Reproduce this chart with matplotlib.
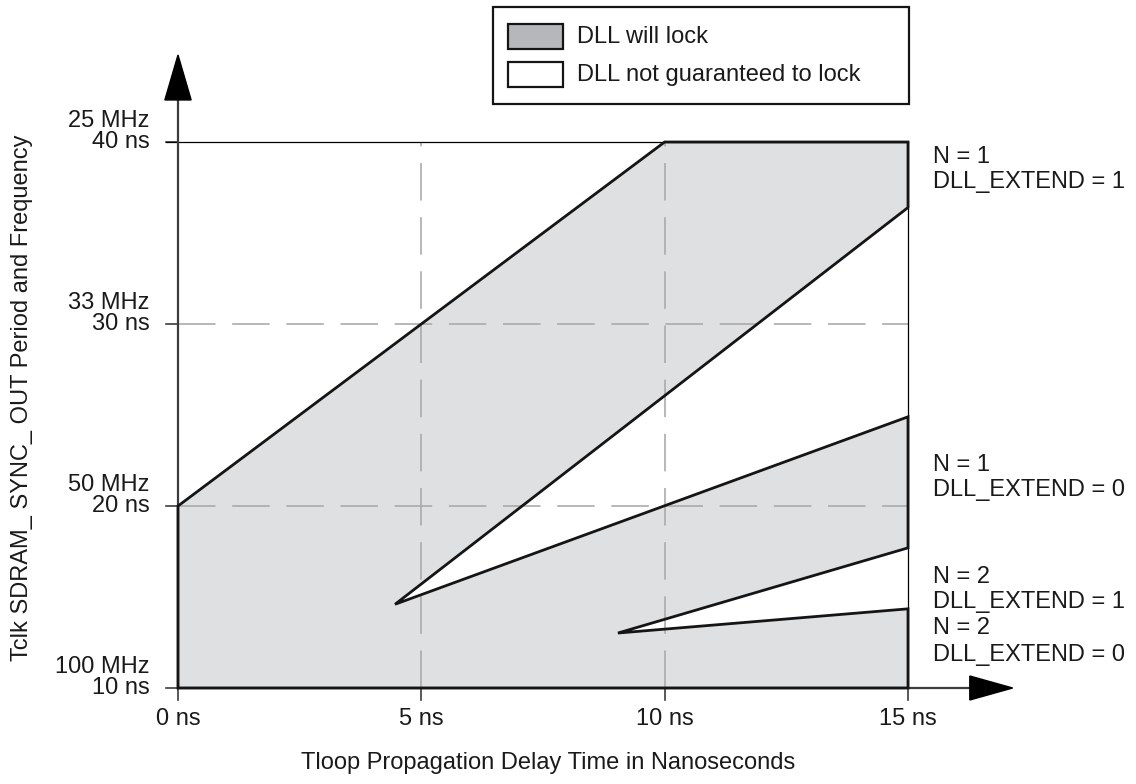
import matplotlib
matplotlib.use("Agg")
from matplotlib import pyplot as plt
from matplotlib.patches import Polygon, Rectangle

plt.rcParams['font.family'] = ['Liberation Sans', 'DejaVu Sans']
plt.rcParams['lines.scale_dashes'] = False

# lock region outline (Tloop ns, Tclk ns)
lockX = [0, 0, 10, 15, 15, 4.46, 15, 15, 9.04, 15, 15]
lockY = [10, 20, 40, 40, 36.4, 14.6, 24.9, 17.7, 13.02, 14.35, 10]

xTicks = [0, 5, 10, 15]
xLabels = ["0 ns", "5 ns", "10 ns", "15 ns"]
yTicks = [10, 20, 30, 40]
yNs = ["10 ns", "20 ns", "30 ns", "40 ns"]
yMHz = ["100 MHz", "50 MHz", "33 MHz", "25 MHz"]

caseY = [39.18, 37.8, 22.25, 20.88, 16.1, 14.73, 13.3, 11.81]
caseText = ["N = 1", "DLL_EXTEND = 1", "N = 1", "DLL_EXTEND = 0",
            "N = 2", "DLL_EXTEND = 1", "N = 2", "DLL_EXTEND = 0"]

W, H = 1136, 784
fs = 17
fig = plt.figure(figsize=(W/100, H/100), dpi=100)
ax = fig.add_axes([178/W, 96/H, 730/W, 546/H])
ax.set_xlim(0, 15)
ax.set_ylim(10, 40)
ax.axis("off")

lockColor = "#dfe0e2"
pts = list(zip(lockX, lockY))
ax.add_patch(Polygon(pts, closed=True, facecolor=lockColor, edgecolor="none", zorder=1))

# dashed grid
for xv in xTicks[1:3]:
    ax.plot([xv, xv], [10, 40], color="#ababab", lw=1.2, dashes=(27, 12), zorder=2)
for yv in yTicks[1:3]:
    ax.plot([0, 15], [yv, yv], color="#ababab", lw=1.2, dashes=(27, 12), zorder=2)

# thin frame lines
ax.plot([-0.25, 15], [40, 40], color="black", lw=0.9, zorder=3, clip_on=False)
ax.plot([15, 15], [10, 40], color="black", lw=0.9, zorder=3, clip_on=False)

# axes with arrows
axc = "#3c3c3c"
ax.plot([0, 0], [10, 42.4], color=axc, lw=1.6, zorder=3, clip_on=False)
ax.plot([0, 16.3], [10, 10], color=axc, lw=1.6, zorder=3, clip_on=False)
ax.fill([-0.27, 0.27, 0], [42.31, 42.31, 44.78], color="black", zorder=4, clip_on=False)
ax.fill([16.27, 16.27, 17.15], [9.34, 10.66, 10], color="black", zorder=4, clip_on=False)

# ticks
for xv in xTicks:
    ax.plot([xv, xv], [10, 9.35], color=axc, lw=1.2, clip_on=False)
for yv in yTicks:
    ax.plot([-0.25, 0], [yv, yv], color=axc, lw=1.2, clip_on=False)

# outline of lock region
ax.add_patch(Polygon(pts, closed=True, facecolor="none", edgecolor="#151515",
                     lw=2.0, joinstyle="miter", zorder=5, clip_on=False))

# tick labels
for xv, lab in zip(xTicks, xLabels):
    ax.text(xv, 8.3, lab, ha="center", va="center", fontsize=fs, color="#1a1a1a")
for yv, ns, mhz in zip(yTicks, yNs, yMHz):
    ax.text(-0.58, yv, ns, ha="right", va="center", fontsize=fs, color="#1a1a1a")
    ax.text(-0.58, yv + 1.15, mhz, ha="right", va="center", fontsize=fs, color="#1a1a1a")

for yv, t in zip(caseY, caseText):
    ax.text(15.51, yv, t, ha="left", va="center", fontsize=fs, color="#1a1a1a")

fig.text(548/W, 1 - 763/H, "Tloop Propagation Delay Time in Nanoseconds",
         ha="center", va="center", fontsize=fs, color="#1a1a1a")
fig.text(22/W, 1 - 398/H, "Tclk SDRAM_ SYNC_ OUT Period and Frequency",
         ha="center", va="center", rotation=90, fontsize=fs, color="#1a1a1a")

# legend box
fig.patches.append(Rectangle((493/W, 1 - 104/H), 416/W, 97/H, transform=fig.transFigure,
                             facecolor="white", edgecolor="#151515", lw=1.6))
fig.patches.append(Rectangle((508/W, 1 - 49/H), 55/W, 25/H, transform=fig.transFigure,
                             facecolor="#b6b7ba", edgecolor="#151515", lw=1.6))
fig.patches.append(Rectangle((508/W, 1 - 87/H), 55/W, 25/H, transform=fig.transFigure,
                             facecolor="white", edgecolor="#151515", lw=1.6))
fig.text(577/W, 1 - 37/H, "DLL will lock", ha="left", va="center", fontsize=fs, color="#1a1a1a")
fig.text(577/W, 1 - 75/H, "DLL not guaranteed to lock", ha="left", va="center",
         fontsize=fs, color="#1a1a1a")

fig.savefig("out.png", dpi=100)
